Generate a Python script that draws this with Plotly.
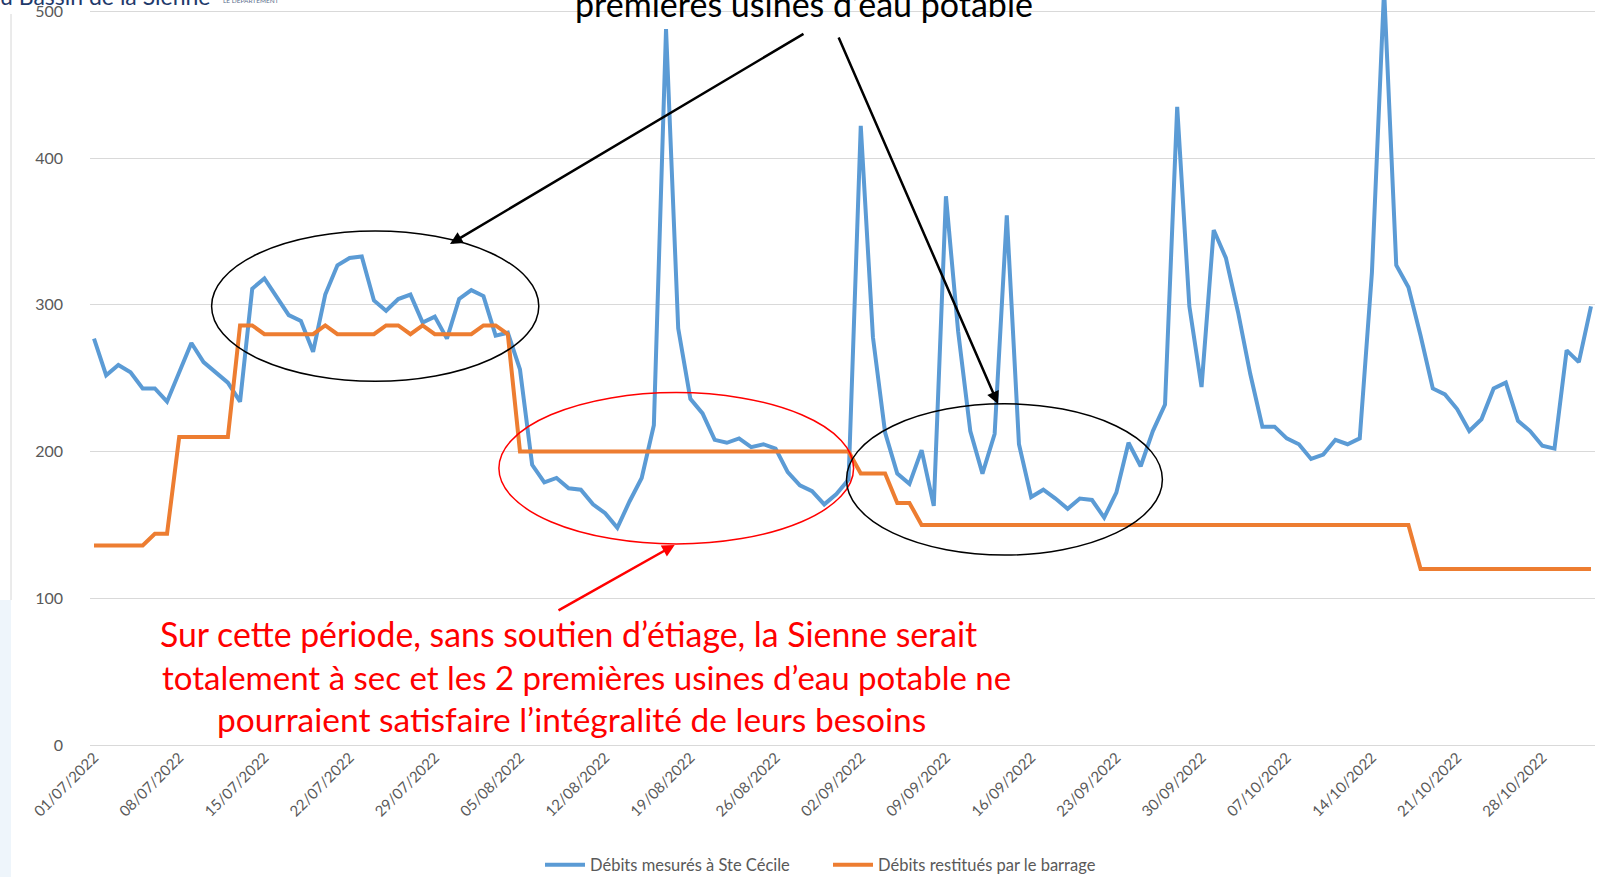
import pandas as pd
import plotly.graph_objects as go

# ---- data ----
start_date = "2022-07-01"
blue_name = "Débits mesurés à Ste Cécile"
orange_name = "Débits restitués par le barrage"

blue = [277, 252, 259, 254, 243, 243, 234, 254, 274, 261,
        254, 247, 234, 311, 318, 306, 293, 289, 268, 307,
        327, 332, 333, 303, 296, 304, 307, 288, 292, 277,
        304, 310, 306, 279, 281, 256, 191, 179, 182, 175,
        174, 164, 158, 148, 166, 182, 218, 488, 284, 236,
        226, 208, 206, 209, 203, 205, 202, 186, 177, 173,
        164, 171, 181, 422, 278, 213, 185, 178, 201, 163,
        374, 282, 214, 185, 212, 361, 205, 169, 174, 168,
        161, 168, 167, 155, 172, 206, 190, 214, 232, 435,
        299, 244, 351, 332, 295, 253, 217, 217, 209, 205,
        195, 198, 208, 205, 209, 322, 515, 327, 312, 279,
        243, 239, 229, 214, 222, 243, 247, 221, 214, 204,
        202, 269, 261, 299]

orange = ([136] * 5 + [144] * 2 + [210] * 5 + [286] * 2 + [280] * 5 + [286] +
          [280] * 4 + [286] * 2 + [280] + [286] + [280] * 4 + [286] * 2 + [280] +
          [200] * 28 + [185] * 3 + [165] * 2 + [150] * 41 + [120] * 15)

dates = pd.date_range(start_date, periods=len(blue), freq="D")

note_top = "premières usines d’eau potable"
note_red = ["Sur cette période, sans soutien d’étiage, la Sienne serait",
            "totalement à sec et les 2 premières usines d’eau potable ne",
            "pourraient satisfaire l’intégralité de leurs besoins"]

# ---- layout geometry (pixels) ----
W, H = 1603, 877
PL, PR, PT, PB = 90, 1595, 0, 745


def fx(x):
    return (x - PL) / (PR - PL)


def fy(y):
    return (PB - y) / (PB - PT)


FONT = "Lato"
GRAY = "#595959"

fig = go.Figure()
fig.add_trace(go.Scatter(x=dates, y=blue, mode="lines", name=blue_name,
                         line=dict(color="#5B9BD5", width=4)))
fig.add_trace(go.Scatter(x=dates, y=orange, mode="lines", name=orange_name,
                         line=dict(color="#ED7D31", width=4)))

shapes = [
    # slide decorations at left edge
    dict(type="line", xref="paper", yref="paper", x0=fx(11), x1=fx(11), y0=fy(14), y1=fy(600),
         line=dict(color="#D6D6D6", width=1)),
    dict(type="rect", xref="paper", yref="paper", x0=fx(0), x1=fx(11), y0=fy(600), y1=fy(877),
         fillcolor="#EEF5FB", line=dict(width=0), layer="below"),
    # ellipses
    dict(type="circle", xref="paper", yref="paper", x0=fx(211.6), x1=fx(538.8), y0=fy(381.3), y1=fy(231),
         line=dict(color="black", width=1.5)),
    dict(type="circle", xref="paper", yref="paper", x0=fx(498.9), x1=fx(853.6), y0=fy(543.9), y1=fy(392.6),
         line=dict(color="#FF0000", width=1.5)),
    dict(type="circle", xref="paper", yref="paper", x0=fx(846.5), x1=fx(1162.4), y0=fy(555.1), y1=fy(403.8),
         line=dict(color="black", width=1.5)),
]

annotations = []


def arrow(head, tail, color):
    annotations.append(dict(xref="paper", yref="paper", x=fx(head[0]), y=fy(head[1]),
                            ax=tail[0] - head[0], ay=tail[1] - head[1], axref="pixel", ayref="pixel",
                            text="", showarrow=True, arrowhead=2, arrowsize=1, arrowwidth=2.5,
                            arrowcolor=color, standoff=0, startstandoff=0))


arrow((450, 244), (805, 33), "black")
arrow((998, 404), (838, 36), "black")
arrow((674.7, 544.9), (557, 611.3), "#FF0000")


def text(s, cx, baseline, size, color, anchor="center"):
    annotations.append(dict(xref="paper", yref="paper", x=fx(cx), y=fy(baseline - 0.33 * size),
                            xanchor=anchor, yanchor="middle", text=s, showarrow=False,
                            font=dict(family=FONT, size=size, color=color)))


text(note_top, 803.5, 15, 34, "black")
text(note_red[0], 568, 645, 33.8, "#FF0000")
text(note_red[1], 586, 688, 33, "#FF0000")
text(note_red[2], 571, 730, 33.5, "#FF0000")
text("u Bassin de la Sienne", -2, 4, 23, "#1F3A6B", anchor="left")
text("LE DÉPARTEMENT", 221, 3, 6.5, "#5A6E8C", anchor="left")

fig.update_layout(
    width=W, height=H,
    margin=dict(l=PL, r=W - PR, t=PT, b=H - PB, pad=0, autoexpand=False),
    paper_bgcolor="white", plot_bgcolor="white",
    font=dict(family=FONT, color=GRAY),
    showlegend=True,
    legend=dict(orientation="h", x=fx(540), xanchor="left", y=fy(865), yanchor="middle",
                font=dict(size=16.5, color=GRAY), itemwidth=40, entrywidth=233,
                bgcolor="rgba(0,0,0,0)"),
    xaxis=dict(type="date", automargin=False,
               range=["2022-06-30 16:06", "2022-11-01 07:54"],
               tick0=start_date, dtick=7 * 86400000, tickformat="%d/%m/%Y",
               tickangle=-45, showgrid=False, zeroline=False, showline=False,
               ticks="", tickfont=dict(size=15, color=GRAY)),
    yaxis=dict(range=[0, 507.8], dtick=100, tick0=0, showgrid=True, gridcolor="#D9D9D9",
               gridwidth=1, zeroline=True, zerolinecolor="#D9D9D9", zerolinewidth=1,
               showline=False, ticks="", ticklabelstandoff=26, automargin=False,
               tickfont=dict(size=16, color=GRAY)),
    shapes=shapes,
    annotations=annotations,
)

fig.write_html("out.html", config={"displayModeBar": False},
               post_script="document.body.style.margin='0px';document.body.style.overflow='hidden';")
